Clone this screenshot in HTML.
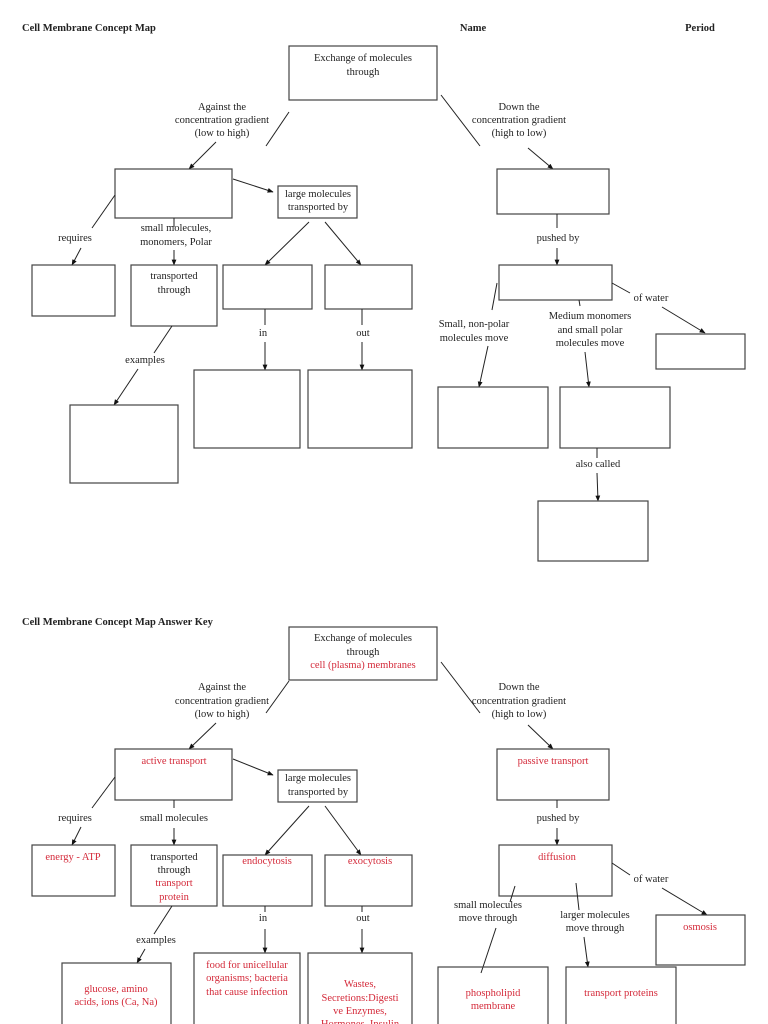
<!DOCTYPE html>
<html><head><meta charset="utf-8"><style>
html,body{margin:0;padding:0;background:#fff;}
svg{display:block;}
text{font-family:"Liberation Serif",serif;font-size:10.5px;fill:#222;}
.b{font-weight:bold;font-size:10.5px;}
.r{fill:#d42a3a;}
rect{fill:none;stroke:#444;stroke-width:1.2;}
line{stroke:#222;stroke-width:1;}
.a{marker-end:url(#ar);}
</style></head><body>
<svg width="768" height="1024" viewBox="0 0 768 1024" xmlns="http://www.w3.org/2000/svg">
<defs><marker id="ar" viewBox="0 0 10 10" refX="9" refY="5" markerWidth="6" markerHeight="6" orient="auto"><path d="M0,1 L10,5 L0,9 z" fill="#111"/></marker></defs>
<g text-anchor="middle">
<!-- ===== TOP ===== -->
<text class="b" x="22" y="31" text-anchor="start">Cell Membrane Concept Map</text>
<text class="b" x="473" y="31">Name</text>
<text class="b" x="700" y="31">Period</text>

<rect x="289" y="46" width="148" height="54"/>
<text x="363" y="61">Exchange of molecules</text>
<text x="363" y="75">through</text>
<line x1="289" y1="112" x2="266" y2="146"/>
<line x1="441" y1="95" x2="480" y2="146"/>
<text x="222" y="110">Against the</text>
<text x="222" y="123">concentration gradient</text>
<text x="222" y="136">(low to high)</text>
<text x="519" y="110">Down the</text>
<text x="519" y="123">concentration gradient</text>
<text x="519" y="136">(high to low)</text>
<line class="a" x1="216" y1="142" x2="189" y2="169"/>
<line class="a" x1="528" y1="148" x2="553" y2="169"/>

<rect x="115" y="169" width="117" height="49"/>
<rect x="278" y="186" width="79" height="32"/>
<text x="318" y="197">large molecules</text>
<text x="318" y="210">transported by</text>
<line class="a" x1="233" y1="179" x2="273" y2="192"/>
<rect x="497" y="169" width="112" height="45"/>

<line x1="115" y1="195" x2="92" y2="228"/>
<text x="75" y="241">requires</text>
<line class="a" x1="81" y1="248" x2="72" y2="265"/>
<line x1="174" y1="218" x2="174" y2="227"/>
<text x="176" y="231">small molecules,</text>
<text x="176" y="245">monomers, Polar</text>
<line class="a" x1="174" y1="250" x2="174" y2="265"/>
<line class="a" x1="309" y1="222" x2="265" y2="265"/>
<line class="a" x1="325" y1="222" x2="361" y2="265"/>
<line x1="557" y1="214" x2="557" y2="228"/>
<text x="558" y="241">pushed by</text>
<line class="a" x1="557" y1="248" x2="557" y2="265"/>

<rect x="32" y="265" width="83" height="51"/>
<rect x="131" y="265" width="86" height="61"/>
<text x="174" y="279">transported</text>
<text x="174" y="293">through</text>
<rect x="223" y="265" width="89" height="44"/>
<rect x="325" y="265" width="87" height="44"/>
<rect x="499" y="265" width="113" height="35"/>
<line x1="612" y1="283" x2="630" y2="293"/>
<text x="651" y="301">of water</text>
<line class="a" x1="662" y1="307" x2="705" y2="333"/>
<rect x="656" y="334" width="89" height="35"/>

<line x1="497" y1="283" x2="492" y2="310"/>
<text x="474" y="327">Small, non-polar</text>
<text x="474" y="341">molecules move</text>
<line class="a" x1="488" y1="346" x2="479" y2="387"/>
<line x1="579" y1="300" x2="580" y2="306"/>
<text x="590" y="319">Medium  monomers</text>
<text x="590" y="333">and small polar</text>
<text x="590" y="346">molecules move</text>
<line class="a" x1="585" y1="352" x2="589" y2="387"/>

<line x1="172" y1="326" x2="154" y2="353"/>
<text x="145" y="363">examples</text>
<line class="a" x1="138" y1="369" x2="114" y2="405"/>
<line x1="265" y1="309" x2="265" y2="325"/>
<text x="263" y="336">in</text>
<line class="a" x1="265" y1="342" x2="265" y2="370"/>
<line x1="362" y1="309" x2="362" y2="325"/>
<text x="363" y="336">out</text>
<line class="a" x1="362" y1="342" x2="362" y2="370"/>

<rect x="70" y="405" width="108" height="78"/>
<rect x="194" y="370" width="106" height="78"/>
<rect x="308" y="370" width="104" height="78"/>
<rect x="438" y="387" width="110" height="61"/>
<rect x="560" y="387" width="110" height="61"/>
<line x1="597" y1="448" x2="597" y2="458"/>
<text x="598" y="467">also called</text>
<line class="a" x1="597" y1="473" x2="598" y2="501"/>
<rect x="538" y="501" width="110" height="60"/>

<!-- ===== BOTTOM ===== -->
<text class="b" x="22" y="625" text-anchor="start">Cell Membrane Concept Map Answer Key</text>
<rect x="289" y="627" width="148" height="53"/>
<text x="363" y="641">Exchange of molecules</text>
<text x="363" y="655">through</text>
<text class="r" x="363" y="668">cell (plasma) membranes</text>
<line x1="289" y1="681" x2="266" y2="713"/>
<line x1="441" y1="662" x2="480" y2="713"/>
<text x="222" y="690">Against the</text>
<text x="222" y="704">concentration gradient</text>
<text x="222" y="717">(low to high)</text>
<text x="519" y="690">Down the</text>
<text x="519" y="704">concentration gradient</text>
<text x="519" y="717">(high to low)</text>
<line class="a" x1="216" y1="723" x2="189" y2="749"/>
<line class="a" x1="528" y1="725" x2="553" y2="749"/>

<rect x="115" y="749" width="117" height="51"/>
<text class="r" x="174" y="764">active transport</text>
<rect x="278" y="770" width="79" height="32"/>
<text x="318" y="781">large molecules</text>
<text x="318" y="795">transported by</text>
<line class="a" x1="233" y1="759" x2="273" y2="775"/>
<rect x="497" y="749" width="112" height="51"/>
<text class="r" x="553" y="764">passive transport</text>

<line x1="115" y1="777" x2="92" y2="808"/>
<text x="75" y="821">requires</text>
<line class="a" x1="81" y1="827" x2="72" y2="845"/>
<line x1="174" y1="800" x2="174" y2="808"/>
<text x="174" y="821">small molecules</text>
<line class="a" x1="174" y1="828" x2="174" y2="845"/>
<line class="a" x1="309" y1="806" x2="265" y2="855"/>
<line class="a" x1="325" y1="806" x2="361" y2="855"/>
<line x1="557" y1="800" x2="557" y2="808"/>
<text x="558" y="821">pushed by</text>
<line class="a" x1="557" y1="828" x2="557" y2="845"/>

<rect x="32" y="845" width="83" height="51"/>
<text class="r" x="73" y="860">energy - ATP</text>
<rect x="131" y="845" width="86" height="61"/>
<text x="174" y="860">transported</text>
<text x="174" y="873">through</text>
<text class="r" x="174" y="886">transport</text>
<text class="r" x="174" y="900">protein</text>
<rect x="223" y="855" width="89" height="51"/>
<text class="r" x="267" y="864">endocytosis</text>
<rect x="325" y="855" width="87" height="51"/>
<text class="r" x="370" y="864">exocytosis</text>
<rect x="499" y="845" width="113" height="51"/>
<text class="r" x="557" y="860">diffusion</text>
<line x1="612" y1="863" x2="630" y2="875"/>
<text x="651" y="882">of water</text>
<line class="a" x1="662" y1="888" x2="707" y2="915"/>
<rect x="656" y="915" width="89" height="50"/>
<text class="r" x="700" y="930">osmosis</text>

<line x1="515" y1="886" x2="510" y2="902"/>
<text x="488" y="908">small molecules</text>
<text x="488" y="921">move through</text>
<line x1="496" y1="928" x2="481" y2="973"/>
<line x1="576" y1="883" x2="579" y2="910"/>
<text x="595" y="918">larger molecules</text>
<text x="595" y="931">move through</text>
<line class="a" x1="584" y1="937" x2="588" y2="967"/>

<line x1="172" y1="906" x2="154" y2="934"/>
<text x="156" y="943">examples</text>
<line class="a" x1="145" y1="949" x2="137" y2="963"/>
<line x1="265" y1="906" x2="265" y2="912"/>
<text x="263" y="921">in</text>
<line class="a" x1="265" y1="929" x2="265" y2="953"/>
<line x1="362" y1="906" x2="362" y2="912"/>
<text x="363" y="921">out</text>
<line class="a" x1="362" y1="929" x2="362" y2="953"/>

<rect x="62" y="963" width="109" height="70"/>
<text class="r" x="116" y="992">glucose, amino</text>
<text class="r" x="116" y="1005">acids, ions (Ca, Na)</text>
<rect x="194" y="953" width="106" height="80"/>
<text class="r" x="247" y="968">food for unicellular</text>
<text class="r" x="247" y="981">organisms; bacteria</text>
<text class="r" x="247" y="995">that cause infection</text>
<rect x="308" y="953" width="104" height="80"/>
<text class="r" x="360" y="987">Wastes,</text>
<text class="r" x="360" y="1001">Secretions:Digesti</text>
<text class="r" x="360" y="1014">ve Enzymes,</text>
<text class="r" x="360" y="1027">Hormones, Insulin</text>
<rect x="438" y="967" width="110" height="66"/>
<text class="r" x="493" y="996">phospholipid</text>
<text class="r" x="493" y="1009">membrane</text>
<rect x="566" y="967" width="110" height="66"/>
<text class="r" x="621" y="996">transport proteins</text>
</g>
</svg>
</body></html>
